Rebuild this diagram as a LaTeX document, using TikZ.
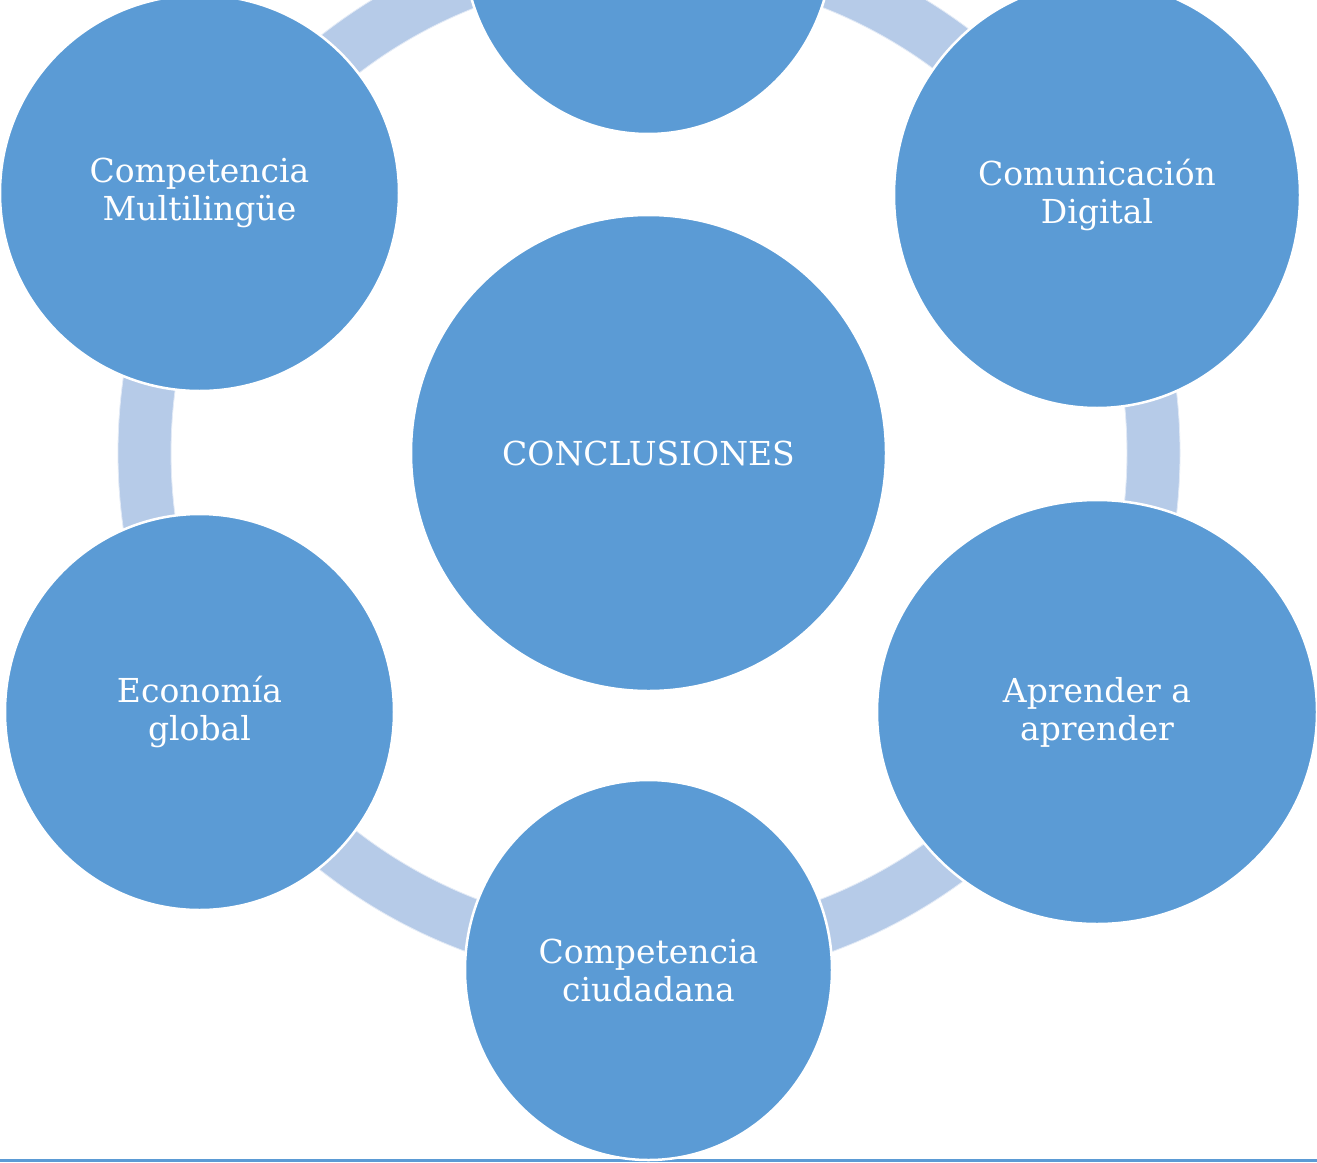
\documentclass[tikz,border=0pt]{standalone}
\usepackage{fontspec}
\setmainfont{DejaVu Serif}
\usetikzlibrary{shapes.geometric}
\definecolor{bubblefill}{HTML}{5B9BD5}
\definecolor{ringcol}{HTML}{B6CBE8}
\begin{document}
\begin{tikzpicture}[x=1pt,y=-1pt,
  bubble/.style={ellipse, fill=bubblefill, draw=white, line width=2.5pt,
    inner sep=0pt, outer sep=0pt, text=white, align=center,
    font=\fontsize{33}{38}\selectfont},
  ringband/.style={fill=ringcol, draw=white!60!ringcol, line width=0.8pt, even odd rule},
  baseline rule/.style={draw=bubblefill, line width=3pt}
]
\useasboundingbox (0,0) rectangle (1317,1162);
\clip (0,0) rectangle (1317,1162);
\fill[white] (0,0) rectangle (1317,1162);

% ring
\coordinate (ringc) at (649,453);
\path[ringband] (ringc) circle[radius=531pt] (ringc) circle[radius=478pt];

% bottom rule
\coordinate (ruleL) at (0,1160);
\coordinate (ruleR) at (1317,1160);
\draw[baseline rule] (ruleL) -- (ruleR);

% bubbles
\node[bubble, minimum width=475pt, minimum height=476pt] (ccenter) at (648.5,453) {CONCLUSIONES};
\node[bubble, minimum width=368pt, minimum height=378pt] (ctop) at (648,-55) {};
\node[bubble, minimum width=399pt, minimum height=396pt] (ctl) at (199.5,193) {Competencia\\Multilingüe};
\node[bubble, minimum width=406pt, minimum height=426pt] (ctr) at (1097,195) {Comunicación\\Digital};
\node[bubble, minimum width=440pt, minimum height=424pt] (cbr) at (1097,712) {Aprender a\\aprender};
\node[bubble, minimum width=389pt, minimum height=396pt] (cbl) at (199.5,712) {Economía\\global};
\node[bubble, minimum width=367pt, minimum height=380pt] (cbot) at (648.5,970) {Competencia\\ciudadana};
\end{tikzpicture}
\end{document}
